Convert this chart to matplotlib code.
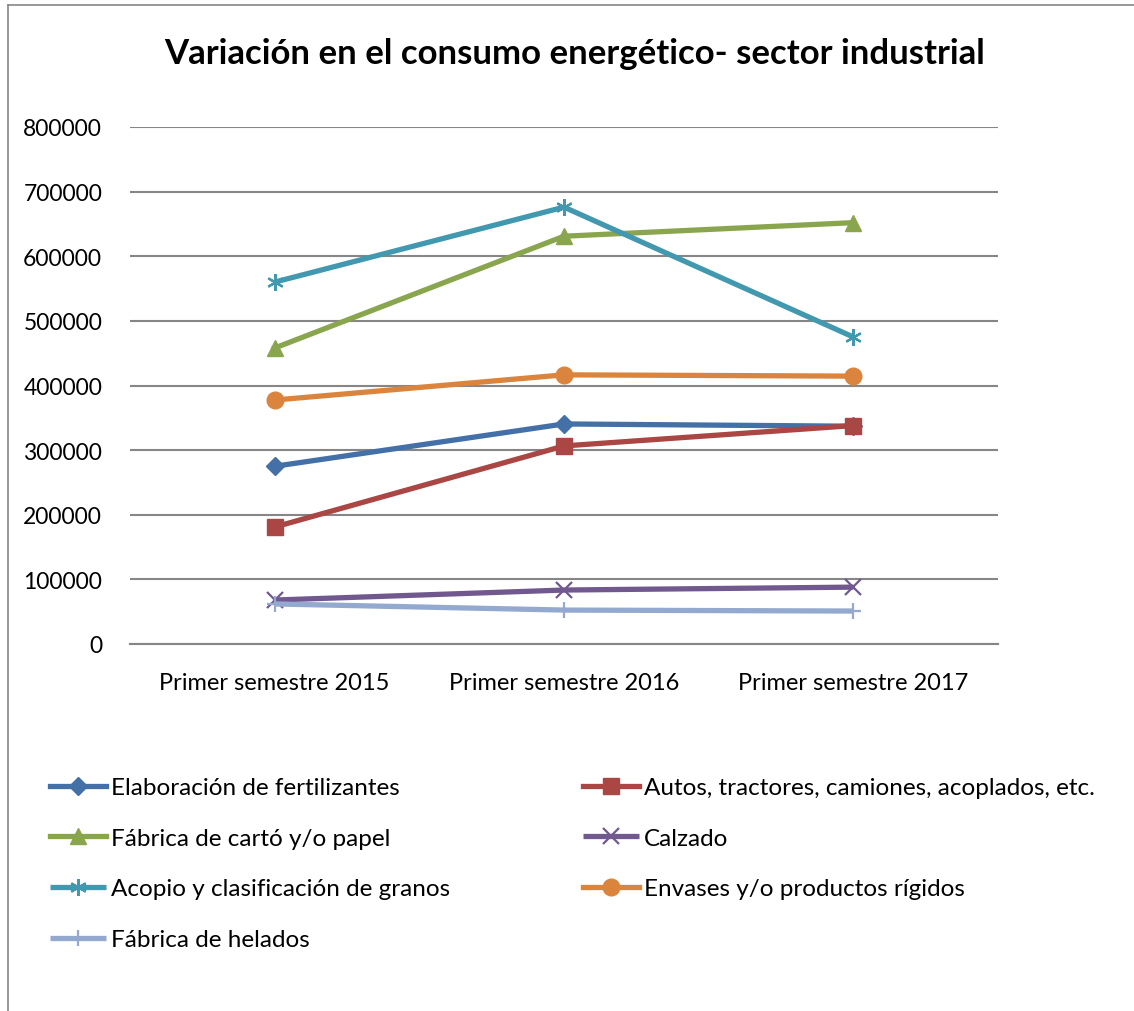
import matplotlib
matplotlib.use("Agg")
import matplotlib.pyplot as plt
from matplotlib.lines import Line2D

plt.rcParams['font.family'] = ['Lato', 'DejaVu Sans']

categories = ["Primer semestre 2015", "Primer semestre 2016", "Primer semestre 2017"]
series_names = [
    "Elaboración de fertilizantes",
    "Autos, tractores, camiones, acoplados, etc.",
    "Fábrica de cartó y/o papel",
    "Calzado",
    "Acopio y clasificación de granos",
    "Envases y/o productos rígidos",
    "Fábrica de helados",
]
fertilizantes = [275000, 340500, 337000]
autos = [181000, 306500, 338000]
carton = [458000, 631000, 652000]
calzado = [68000, 83500, 88000]
acopio = [560000, 676000, 475000]
envases = [377500, 416500, 414500]
helados = [62000, 52500, 51000]
yticks = [0, 100000, 200000, 300000, 400000, 500000, 600000, 700000, 800000]

values = [fertilizantes, autos, carton, calzado, acopio, envases, helados]
colors = ["#4470A8", "#AA4643", "#89A54E", "#71588F", "#4198AF", "#DB843D", "#93A9CF"]
markers = ["D", "s", "^", "x", "*", "o", "|"]
msizes = [9, 12, 12, 12, 12, 12, 12]

fig = plt.figure(figsize=(11.34, 10.12), dpi=100)
ax = fig.add_axes([130/1134, 1-645/1012, 868/1134, 517/1012])

x = list(range(len(categories)))
for vals, c, m, ms, name in zip(values, colors, markers, msizes, series_names):
    if m in ("x", "*", "|"):
        mk = {"x": "x", "*": (6, 2, 0), "|": "+"}[m]
        ax.plot(x, vals, color=c, lw=3.8, marker=mk, ms=ms, mew=1.6, mec=c, label=name,
                solid_capstyle='butt')
    else:
        ax.plot(x, vals, color=c, lw=3.8, marker=m, ms=ms, mfc=c, mec=c, label=name)

ax.set_xlim(-0.5, 2.5)
ax.set_ylim(0, 800000)
ax.set_yticks(yticks)
ax.set_yticklabels([str(v) for v in yticks], fontsize=16.5)
ax.set_xticks(x)
ax.set_xticklabels(categories, fontsize=17)
ax.tick_params(axis='x', length=0, pad=20)
ax.tick_params(axis='y', length=0, pad=20)
ax.grid(axis='y', color='#868686', lw=1.5)
ax.set_axisbelow(True)
for s in ['left', 'right', 'top']:
    ax.spines[s].set_visible(False)
ax.spines['bottom'].set_color('#868686')
ax.spines['bottom'].set_linewidth(1.5)

fig.text(575/1134, 1-54/1012, "Variación en el consumo energético- sector industrial",
         ha='center', va='center', fontsize=25, fontweight='bold')

handles, labels = ax.get_legend_handles_labels()
col1 = [0, 2, 4, 6]
col2 = [1, 3, 5]
common = dict(loc='upper left', frameon=False, fontsize=17.5, handlelength=2.3,
              handletextpad=0.2, labelspacing=1.22, borderpad=0, borderaxespad=0)
leg1 = fig.legend([handles[i] for i in col1], [labels[i] for i in col1],
                  bbox_to_anchor=(50/1134, 1-778/1012), **common)
leg2 = fig.legend([handles[i] for i in col2], [labels[i] for i in col2],
                  bbox_to_anchor=(583/1134, 1-778/1012), **common)

# outer frame (left and top edges visible)
fig.add_artist(Line2D([8/1134, 8/1134], [0, 1-6/1012], color='#868686', lw=1.2,
                      transform=fig.transFigure))
fig.add_artist(Line2D([8/1134, 1], [1-6/1012, 1-6/1012], color='#868686', lw=1.2,
                      transform=fig.transFigure))

fig.savefig("out.png", dpi=100)
